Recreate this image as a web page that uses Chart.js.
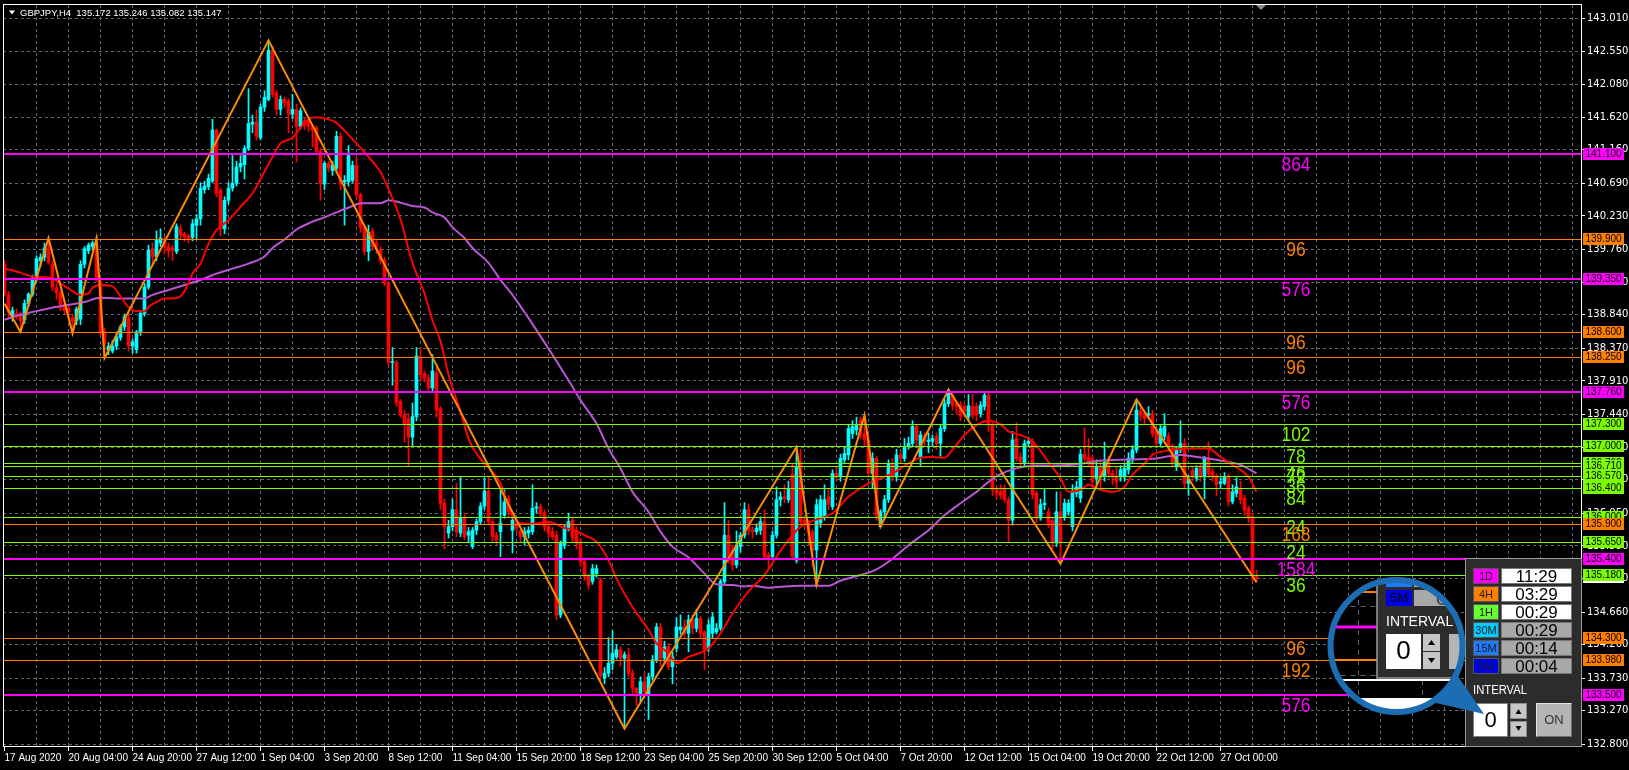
<!DOCTYPE html>
<html><head><meta charset="utf-8">
<script src="https://cdn.jsdelivr.net/npm/chart.js@4.4.1/dist/chart.umd.min.js"></script>
<style>html,body{margin:0;padding:0;background:#000;overflow:hidden}canvas{display:block}</style>
</head><body>
<canvas id="c" width="1629" height="770"></canvas>
<script>
// ---------------- DATA ----------------
const symbolTitle = 'GBPJPY,H4  135.172 135.246 135.082 135.147';
const timeLabels = ['17 Aug 2020','20 Aug 04:00','24 Aug 20:00','27 Aug 12:00','1 Sep 04:00','3 Sep 20:00','8 Sep 12:00','11 Sep 04:00','15 Sep 20:00','18 Sep 12:00','23 Sep 04:00','25 Sep 20:00','30 Sep 12:00','5 Oct 04:00','7 Oct 20:00','12 Oct 12:00','15 Oct 04:00','19 Oct 20:00','22 Oct 12:00','27 Oct 00:00'];
const priceTicks = [143.010,142.550,142.080,141.620,141.160,140.690,140.230,139.760,139.300,138.840,138.370,137.910,137.440,136.980,136.520,136.050,135.590,135.130,134.660,134.200,133.730,133.270,132.800];

const barOpen = [
139.55,139.12,138.83,138.86,138.84,138.77,139.00,139.13,139.36,139.60,
139.65,139.78,139.55,139.22,139.15,138.98,138.93,138.80,138.76,138.78,
139.55,139.74,139.80,139.85,139.30,138.60,138.34,138.33,138.40,138.52,
138.67,138.80,138.40,138.35,138.60,138.86,139.23,139.77,139.66,139.85,
139.90,139.80,139.78,139.73,140.05,139.97,139.95,139.93,140.10,140.19,
140.60,140.64,140.72,141.44,140.59,140.05,140.45,140.62,140.69,140.92,
140.95,141.18,141.52,141.55,141.33,141.76,141.87,142.56,141.96,141.73,
141.87,141.85,141.66,141.73,141.49,141.57,141.56,141.49,141.47,141.14,
140.68,140.97,140.87,140.90,141.35,140.71,140.71,140.73,140.94,140.53,
140.07,139.73,140.02,139.85,139.76,139.61,139.28,138.17,138.17,137.62,
137.43,137.38,137.12,137.41,138.25,138.01,137.95,137.81,138.02,137.52,
136.19,135.77,135.86,136.10,135.77,135.98,135.74,135.58,135.81,135.93,
136.15,136.36,135.93,135.74,135.79,136.02,136.26,135.81,135.91,135.79,
135.72,135.77,135.79,136.12,136.14,136.06,135.86,135.79,135.74,134.62,
135.60,135.84,135.95,135.81,135.65,135.37,135.16,135.09,135.20,135.11,
133.73,133.80,133.94,134.03,134.13,134.01,134.06,133.80,133.59,133.49,
133.68,133.49,133.75,133.99,134.45,134.01,134.17,133.89,134.15,134.41,
134.45,134.36,134.55,134.43,134.57,134.38,134.15,134.36,134.38,134.43,
135.09,135.74,135.53,135.32,135.58,135.74,136.10,135.81,135.79,135.81,
135.93,135.46,135.44,135.74,136.24,136.28,136.24,136.60,135.39,136.77,
135.95,135.91,135.79,135.53,135.91,136.00,136.28,136.14,136.61,136.56,
136.80,136.87,137.17,137.22,137.36,137.17,137.08,136.61,136.82,135.86,
136.07,136.24,136.75,136.56,136.87,136.82,136.99,137.03,137.27,136.84,
137.13,137.06,137.06,137.13,137.03,137.24,137.59,137.71,137.59,137.57,
137.55,137.41,137.55,137.55,137.45,137.55,137.71,137.29,136.38,136.36,
136.40,136.24,135.95,137.10,136.84,136.75,137.03,137.06,136.33,135.98,
136.17,136.07,135.95,135.63,136.07,136.00,136.07,135.86,136.33,136.26,
136.88,136.84,136.82,136.54,136.70,136.56,136.77,136.61,136.56,136.56,
136.56,136.66,136.80,136.94,137.49,137.45,137.43,137.45,137.20,137.03,
137.13,137.13,136.99,136.70,136.94,137.03,136.47,136.65,136.54,136.70,
136.56,136.82,136.63,136.56,136.47,136.47,136.56,136.21,136.33,136.40,
136.26,136.12,136.00,135.172];
const barHigh = [
139.60,139.17,138.95,138.92,138.88,139.05,139.15,139.40,139.67,139.70,
139.85,139.92,139.60,139.28,139.18,139.05,138.98,138.85,138.95,139.60,
139.80,139.85,139.88,139.92,139.33,138.65,138.45,138.48,138.60,138.70,
138.85,138.88,138.50,138.62,138.90,139.28,139.82,139.85,140.02,140.05,
139.95,139.85,139.82,140.12,140.10,140.00,139.98,140.18,140.25,140.70,
140.72,140.82,141.59,141.45,140.62,140.50,140.70,141.08,141.00,141.08,
141.22,142.02,141.65,141.72,141.80,141.99,142.70,142.62,142.00,141.92,
141.90,141.88,141.94,141.80,141.75,141.62,141.60,141.52,141.50,141.18,
141.00,141.00,141.00,141.42,141.40,140.80,141.22,141.00,141.05,140.55,
140.10,140.10,140.06,139.90,139.80,139.65,139.30,138.38,138.20,137.65,
137.50,137.45,137.60,138.38,138.38,138.05,138.00,138.28,138.10,137.55,
136.25,135.95,136.25,136.47,136.57,136.05,135.85,135.85,135.97,136.20,
136.55,136.57,135.97,135.78,136.38,136.38,136.30,136.00,135.95,135.82,
135.85,135.86,136.45,136.20,136.18,136.10,135.92,135.85,135.80,135.66,
135.88,136.05,136.00,135.86,135.70,135.40,135.20,135.33,135.32,135.14,
133.88,134.30,134.40,134.20,134.17,134.10,134.15,133.85,133.60,133.75,
133.80,133.80,134.05,134.50,134.50,134.25,134.22,134.10,134.58,134.62,
134.55,134.62,134.62,134.70,134.60,134.40,134.55,134.65,134.50,135.12,
136.20,135.95,135.60,135.80,135.78,136.20,136.18,135.86,135.90,136.00,
136.10,135.50,135.80,136.42,136.35,136.45,136.50,136.75,136.98,136.95,
136.00,135.95,135.82,136.25,136.30,136.45,136.40,136.66,136.70,136.88,
136.98,137.30,137.35,137.40,137.40,137.43,137.15,136.90,136.85,136.10,
136.30,136.80,136.82,136.95,136.92,137.10,137.12,137.35,137.30,137.20,
137.18,137.18,137.15,137.18,137.30,137.65,137.79,137.76,137.62,137.62,
137.60,137.72,137.72,137.60,137.62,137.76,137.76,137.32,136.42,136.45,
136.45,136.28,137.20,137.32,136.90,137.08,137.12,137.10,136.36,136.25,
136.40,136.12,135.98,136.35,136.35,136.25,136.24,136.45,136.50,136.95,
137.25,137.10,136.87,136.80,136.80,137.05,136.85,136.66,136.70,136.72,
136.75,136.90,137.00,137.65,137.60,137.50,137.55,137.50,137.25,137.30,
137.45,137.18,137.02,136.98,137.35,137.10,136.58,136.70,136.72,136.75,
136.85,137.05,136.68,136.60,136.55,136.62,136.60,136.45,136.55,136.50,
136.30,136.15,136.05,135.246];
const barLow = [
139.10,138.80,138.75,138.78,138.60,138.72,138.95,139.10,139.30,139.52,
139.60,139.55,139.18,139.05,138.90,138.85,138.80,138.58,138.70,138.70,
139.50,139.70,139.75,139.30,138.55,138.23,138.28,138.30,138.35,138.48,
138.62,138.33,138.30,138.30,138.55,138.82,139.20,139.55,139.60,139.80,
139.70,139.65,139.60,139.70,139.90,139.88,139.85,139.88,139.90,140.10,
140.55,140.60,140.70,140.50,139.95,139.98,140.40,140.58,140.65,140.85,
140.75,141.15,141.40,141.30,141.30,141.70,141.85,141.90,141.65,141.65,
141.75,141.40,141.60,140.99,141.45,141.45,141.42,141.20,141.10,140.45,
140.60,140.85,140.80,140.85,140.60,140.10,140.65,140.70,140.48,140.00,
139.68,139.60,139.75,139.70,139.55,139.25,138.12,137.85,137.55,137.40,
137.05,136.72,137.00,137.35,137.90,137.90,137.75,137.75,137.40,136.10,
135.55,135.70,135.80,135.72,135.72,135.68,135.65,135.55,135.75,135.90,
136.10,135.90,135.65,135.60,135.44,135.98,136.00,135.49,135.78,135.65,
135.60,135.70,135.75,136.05,136.00,135.80,135.70,135.68,134.55,134.58,
135.55,135.80,135.65,135.55,135.30,135.10,134.98,135.05,135.15,133.70,
133.65,133.75,133.85,134.00,133.90,133.02,133.75,133.50,133.35,133.40,
133.45,133.15,133.70,133.95,133.90,133.95,133.85,133.65,134.10,134.35,
134.30,134.10,134.35,134.38,134.30,133.85,134.10,134.30,134.35,134.40,
135.05,135.35,135.25,135.28,135.50,135.70,135.75,135.70,135.75,135.75,
135.40,135.25,135.40,135.70,136.15,136.20,136.20,135.40,135.35,135.90,
135.85,135.60,135.30,135.04,135.85,135.95,136.10,136.10,136.50,136.50,
136.75,136.80,137.10,137.15,137.10,137.00,136.55,136.40,135.95,135.86,
136.00,136.20,136.50,136.50,136.75,136.78,136.95,136.98,137.00,136.72,
137.00,136.90,137.00,136.95,136.85,137.20,137.55,137.50,137.45,137.35,
137.40,137.35,137.38,137.35,137.40,137.50,137.20,136.30,136.25,136.25,
136.20,135.65,135.88,136.78,136.70,136.70,136.98,136.25,135.92,135.95,
136.10,135.85,135.55,135.58,135.34,135.95,136.02,135.80,136.28,136.20,
136.78,136.70,136.40,136.45,136.40,136.50,136.55,136.45,136.40,136.50,
136.50,136.60,136.75,136.90,137.35,137.30,137.38,137.12,136.98,136.98,
137.08,136.95,136.70,136.65,136.90,136.40,136.30,136.50,136.50,136.50,
136.25,136.55,136.50,136.30,136.40,136.45,136.15,136.18,136.28,136.18,
136.02,135.92,135.09,135.082];
const barClose = [
139.13,138.88,138.90,138.82,138.76,139.00,139.13,139.36,139.63,139.65,
139.78,139.58,139.23,139.15,138.95,138.90,138.88,138.75,138.92,139.55,
139.77,139.82,139.85,139.33,138.60,138.43,138.40,138.40,138.53,138.67,
138.81,138.40,138.46,138.60,138.86,139.23,139.75,139.66,139.89,139.92,
139.80,139.74,139.75,140.08,139.96,139.93,139.90,140.12,140.19,140.62,
140.65,140.76,141.44,140.55,140.05,140.45,140.62,140.69,140.92,140.97,
141.18,141.53,141.55,141.35,141.76,141.90,142.56,141.94,141.73,141.87,
141.82,141.66,141.73,141.49,141.71,141.51,141.49,141.44,141.14,140.68,
140.97,140.90,140.95,141.35,140.68,140.73,141.08,140.94,140.53,140.07,
139.73,140.00,139.80,139.80,139.60,139.28,138.17,138.18,137.60,137.43,
137.31,137.12,137.41,138.26,138.00,137.95,137.81,138.05,137.50,136.19,
135.86,135.86,136.10,135.79,135.98,135.72,135.79,135.81,135.93,136.15,
136.36,135.93,135.72,135.67,135.91,136.21,136.07,135.95,135.84,135.72,
135.79,135.81,136.12,136.14,136.05,135.86,135.77,135.72,134.62,135.63,
135.84,135.93,135.70,135.63,135.37,135.16,135.04,135.27,135.27,133.77,
133.80,133.94,134.08,134.13,134.01,134.06,133.80,133.59,133.52,133.68,
133.54,133.75,133.99,134.45,134.01,134.17,133.89,134.03,134.45,134.45,
134.36,134.55,134.43,134.57,134.36,134.13,134.48,134.59,134.43,135.09,
135.74,135.39,135.32,135.60,135.74,136.10,135.81,135.79,135.84,135.93,
135.44,135.42,135.74,136.24,136.28,136.26,136.40,135.44,136.70,135.93,
135.91,135.77,135.53,136.17,136.24,136.24,136.17,136.61,136.56,136.82,
136.89,137.24,137.27,137.29,137.17,137.08,136.61,136.82,136.02,136.07,
136.24,136.75,136.56,136.87,136.82,136.99,137.03,137.27,137.08,137.15,
137.06,137.08,137.10,137.03,137.24,137.59,137.76,137.57,137.55,137.41,
137.48,137.56,137.43,137.43,137.57,137.71,137.29,136.38,136.33,136.30,
136.24,135.95,137.08,136.82,136.77,137.03,137.06,136.31,135.98,136.17,
136.19,135.91,135.63,136.07,135.63,136.19,136.19,136.35,136.42,136.88,
136.82,136.77,136.49,136.70,136.56,136.77,136.61,136.56,136.49,136.66,
136.68,136.82,136.94,137.50,137.43,137.38,137.45,137.17,137.03,137.24,
137.27,136.99,136.75,136.94,137.03,136.47,136.52,136.56,136.68,136.56,
136.82,136.61,136.56,136.45,136.49,136.56,136.21,136.35,136.42,136.24,
136.09,135.98,135.17,135.147];

// moving averages: [bar index, value]
const maFast = [[0,139.49],[3,139.45],[7,139.38],[12,139.35],[14,139.28],[16,139.21],[19,139.12],[21,139.14],[22,139.22],[24,139.26],[27,139.24],[29,139.10],[31,138.95],[33,138.89],[35,138.89],[36,138.95],[38,139.02],[40,139.07],[42,139.07],[44,139.10],[46,139.28],[47,139.42],[49,139.56],[51,139.84],[53,140.03],[56,140.17],[59,140.36],[62,140.55],[64,140.75],[67,141.06],[69,141.25],[72,141.33],[74,141.47],[76,141.59],[78,141.62],[81,141.59],[83,141.54],[86,141.37],[88,141.25],[91,141.06],[94,140.85],[96,140.61],[99,140.18],[102,139.57],[105,139.14],[107,138.76],[109,138.47],[111,138.00],[114,137.48],[116,137.10],[119,136.81],[121,136.69],[124,136.47],[127,136.00],[129,135.91],[132,135.90],[136,135.93],[140,135.84],[142,135.82],[145,135.74],[148,135.65],[151,135.39],[153,135.13],[157,134.73],[161,134.41],[163,134.22],[166,134.08],[168,133.94],[171,134.03],[174,134.09],[176,134.15],[179,134.36],[182,134.64],[186,134.95],[190,135.18],[193,135.44],[196,135.67],[199,135.86],[203,135.96],[207,136.05],[211,136.28],[216,136.47],[219,136.54],[222,136.61],[226,136.75],[229,136.83],[232,136.84],[235,136.83],[237,136.94],[240,137.15],[243,137.29],[246,137.35],[249,137.30],[251,137.20],[254,137.15],[257,137.06],[261,136.77],[264,136.54],[266,136.35],[269,136.38],[271,136.45],[274,136.38],[277,136.35],[280,136.42],[282,136.59],[285,136.75],[287,136.87],[291,136.93],[293,136.95],[296,136.96],[301,136.96],[304,136.84],[307,136.73],[311,136.56],[313,136.35]];
const maSlow = [[0,138.77],[4,138.84],[7,138.88],[11,138.93],[16,138.98],[20,139.02],[24,139.08],[28,139.07],[32,139.07],[35,139.07],[37,139.12],[41,139.19],[45,139.26],[49,139.33],[53,139.42],[57,139.49],[61,139.56],[65,139.66],[67,139.78],[70,139.90],[73,140.04],[77,140.15],[80,140.21],[83,140.28],[87,140.37],[89,140.41],[94,140.41],[96,140.45],[100,140.40],[102,140.37],[105,140.35],[107,140.28],[110,140.21],[112,140.07],[115,139.92],[117,139.78],[121,139.57],[124,139.33],[127,139.12],[141,137.92],[144,137.64],[148,137.31],[151,136.96],[154,136.68],[157,136.35],[161,136.07],[164,135.79],[167,135.58],[171,135.43],[175,135.20],[178,135.05],[182,135.04],[185,135.02],[187,135.03],[191,135.00],[195,135.02],[199,135.03],[206,135.03],[209,135.10],[214,135.18],[218,135.26],[222,135.41],[226,135.60],[231,135.81],[235,136.02],[239,136.19],[243,136.35],[246,136.49],[249,136.60],[253,136.68],[258,136.72],[262,136.72],[267,136.73],[271,136.76],[274,136.79],[279,136.80],[284,136.81],[288,136.82],[291,136.85],[294,136.87],[297,136.85],[301,136.82],[306,136.77],[309,136.73],[313,136.61]];
const zigzag = [[0,139.00],[4,138.60],[11,139.92],[17,138.58],[23,139.92],[25,138.23],[66,142.70],[155,133.02],[198,136.98],[203,135.04],[215,137.43],[219,135.86],[236,137.79],[264,135.34],[283,137.65],[313,135.08]];

// horizontal levels
const levelPrice = [141.10,139.90,139.35,138.60,138.25,137.76,137.30,137.00,136.76,136.71,136.57,136.40,136.00,135.90,135.65,135.40,135.18,134.30,133.98,133.50];
const levelKind  = ['m','o','m','o','o','m','g','g','g','g','g','g','g','o','g','m','g','o','o','m'];
const levelCount = ['864','96','576','96','96','576','102','78','46','72','36','84','24','168','24','1584','36','96','192','576'];
const bidPrice = 135.147;

// timer panel
const timerNames  = ['1D','4H','1H','30M','15M','5M'];
const timerValues = ['11:29','03:29','00:29','00:29','00:14','00:04'];
const intervalValue = '0';

// ---------------- STYLE ----------------
const UP = '#00FFFF', DOWN = '#FF0000', GRID = '#5d6876';
const KIND = {m:{c:'#FF00FF',w:2}, o:{c:'#FF7F00',w:1}, g:{c:'#7CFC00',w:1}};
const timerColors = ['#FF00FF','#FF7F00','#66FF33','#00CCFF','#1E7BFF','#0000E6'];
const timerBg = ['#FFFFFF','#FFFFFF','#FFFFFF','#A8A8A8','#A8A8A8','#A8A8A8'];

const idx = barOpen.map((_, i) => i);
const candleColor = idx.map(i => barClose[i] >= barOpen[i] ? UP : DOWN);
const gridIdx = []; for (let i = 0; i <= 392; i += 8) gridIdx.push(i);
const isLabelTick = v => v % 16 === 0 && v / 16 < timeLabels.length;

function drawOverlay(chart) {
  const ctx = chart.ctx, a = chart.chartArea, ys = chart.scales.y;
  const yp = v => ys.getPixelForValue(v);
  ctx.save();
  // level lines
  ctx.save();
  ctx.beginPath(); ctx.rect(a.left, a.top, a.right - a.left, a.bottom - a.top); ctx.clip();
  levelPrice.forEach((p, k) => {
    const st = KIND[levelKind[k]];
    let y = Math.round(yp(p)); if (st.w % 2) y += 0.5;
    ctx.strokeStyle = st.c; ctx.lineWidth = st.w; ctx.setLineDash([]);
    ctx.beginPath(); ctx.moveTo(a.left, y); ctx.lineTo(a.right, y); ctx.stroke();
  });
  // level counts
  levelPrice.forEach((p, k) => {
    const st = KIND[levelKind[k]];
    const y = yp(p);
    ctx.save(); ctx.translate(1296, y + 17); ctx.scale(0.87, 1);
    ctx.font = '20px "Liberation Sans", Arial, sans-serif';
    ctx.fillStyle = st.c; ctx.textAlign = 'center'; ctx.textBaseline = 'alphabetic';
    ctx.fillText(levelCount[k], 0, 0);
    ctx.restore();
  });
  ctx.restore();

  // frame
  ctx.strokeStyle = '#ffffff'; ctx.lineWidth = 1; ctx.setLineDash([]);
  ctx.strokeRect(3.5, 4.5, 1578, 742);

  // price boxes on axis
  ctx.font = '10px "Liberation Sans", Arial, sans-serif';
  ctx.textBaseline = 'middle'; ctx.textAlign = 'left';
  const box = (p, fill) => {
    const y = Math.round(yp(p));
    ctx.fillStyle = fill; ctx.fillRect(1583, y - 6, 41, 12);
    ctx.fillStyle = '#000'; ctx.fillText(p.toFixed(3), 1585.5, y + 0.5, 37.5);
  };
  box(bidPrice, '#FFFFFF');
  levelPrice.forEach((p, k) => box(p, KIND[levelKind[k]].c));

  // header
  ctx.fillStyle = '#ffffff';
  ctx.beginPath(); ctx.moveTo(9, 10.5); ctx.lineTo(15, 10.5); ctx.lineTo(12, 14.5); ctx.closePath(); ctx.fill();
  ctx.font = '9.5px "Liberation Sans", Arial, sans-serif'; ctx.textBaseline = 'middle';
  ctx.fillText(symbolTitle, 20, 13);
  // chart shift marker
  ctx.fillStyle = '#8a8a8a';
  ctx.beginPath(); ctx.moveTo(1256, 5); ctx.lineTo(1266, 5); ctx.lineTo(1261, 10); ctx.closePath(); ctx.fill();

  drawPanel(ctx);
  drawMagnifier(ctx);
  ctx.restore();
}

function drawPanel(ctx) {
  ctx.fillStyle = '#2c2c2c'; ctx.fillRect(1465, 558, 117, 189);
  ctx.strokeStyle = '#9c9c9c'; ctx.lineWidth = 1; ctx.strokeRect(1465.5, 558.5, 116, 188);
  for (let k = 0; k < timerNames.length; k++) {
    const y = 568 + k * 18;
    ctx.fillStyle = timerColors[k]; ctx.fillRect(1473, y, 26, 16);
    ctx.strokeStyle = '#555'; ctx.strokeRect(1473.5, y + 0.5, 25, 15);
    ctx.fillStyle = timerBg[k]; ctx.fillRect(1501, y, 71, 16);
    ctx.strokeStyle = '#777'; ctx.strokeRect(1501.5, y + 0.5, 70, 15);
    ctx.fillStyle = '#1a1a1a'; ctx.textAlign = 'center'; ctx.textBaseline = 'middle';
    ctx.font = '11px "Liberation Sans", Arial, sans-serif';
    ctx.fillText(timerNames[k], 1486, y + 8.5);
    ctx.fillStyle = '#000'; ctx.font = '17px "Liberation Sans", Arial, sans-serif';
    ctx.fillText(timerValues[k], 1536.5, y + 9);
  }
  ctx.textAlign = 'left'; ctx.textBaseline = 'alphabetic';
  ctx.fillStyle = '#ffffff'; ctx.font = '12px "Liberation Sans", Arial, sans-serif';
  ctx.fillText('INTERVAL', 1473, 694, 54);
  // input
  ctx.fillStyle = '#ffffff'; ctx.fillRect(1473, 703, 35, 34);
  ctx.strokeStyle = '#808080'; ctx.strokeRect(1473.5, 703.5, 34, 33);
  ctx.fillStyle = '#000'; ctx.font = '22px "Liberation Sans", Arial, sans-serif';
  ctx.textAlign = 'center'; ctx.textBaseline = 'middle';
  ctx.fillText(intervalValue, 1490.5, 721);
  // spinner
  ctx.fillStyle = '#c6c6c6'; ctx.fillRect(1510, 703, 17, 16); ctx.fillRect(1510, 721, 17, 16);
  ctx.strokeStyle = '#8a8a8a'; ctx.strokeRect(1510.5, 703.5, 16, 15); ctx.strokeRect(1510.5, 721.5, 16, 15);
  ctx.fillStyle = '#000';
  ctx.beginPath(); ctx.moveTo(1515.5, 714); ctx.lineTo(1521.5, 714); ctx.lineTo(1518.5, 709); ctx.closePath(); ctx.fill();
  ctx.beginPath(); ctx.moveTo(1515.5, 726); ctx.lineTo(1521.5, 726); ctx.lineTo(1518.5, 731); ctx.closePath(); ctx.fill();
  // ON button
  ctx.fillStyle = '#b4b4b4'; ctx.fillRect(1536, 703, 36, 34);
  ctx.strokeStyle = '#e6e6e6'; ctx.beginPath(); ctx.moveTo(1536.5, 736.5); ctx.lineTo(1536.5, 703.5); ctx.lineTo(1571.5, 703.5); ctx.stroke();
  ctx.strokeStyle = '#6e6e6e'; ctx.beginPath(); ctx.moveTo(1571.5, 703.5); ctx.lineTo(1571.5, 736.5); ctx.lineTo(1536.5, 736.5); ctx.stroke();
  ctx.fillStyle = '#333'; ctx.font = '13px "Liberation Sans", Arial, sans-serif';
  ctx.fillText('ON', 1554, 720.5);
}

function drawMagnifier(ctx) {
  const cx = 1396.5, cy = 646, r = 66;
  ctx.save();
  ctx.beginPath(); ctx.arc(cx, cy, r, 0, Math.PI * 2); ctx.clip();
  ctx.fillStyle = '#000'; ctx.fillRect(cx - r, cy - r, 2 * r, 2 * r);
  ctx.strokeStyle = GRID; ctx.lineWidth = 1; ctx.setLineDash([5, 5]);
  [1358.5, 1422.5].forEach(x => { ctx.beginPath(); ctx.moveTo(x, cy - r); ctx.lineTo(x, cy + r); ctx.stroke(); });
  [606.5, 675.5].forEach(y => { ctx.beginPath(); ctx.moveTo(cx - r, y); ctx.lineTo(cx + r, y); ctx.stroke(); });
  ctx.setLineDash([]);
  ctx.strokeStyle = '#FF7F00'; ctx.lineWidth = 2;
  ctx.beginPath(); ctx.moveTo(cx - r, 592); ctx.lineTo(1377, 592); ctx.stroke();
  ctx.beginPath(); ctx.moveTo(cx - r, 660); ctx.lineTo(1377, 660); ctx.stroke();
  ctx.strokeStyle = '#FF00FF'; ctx.lineWidth = 3;
  ctx.beginPath(); ctx.moveTo(cx - r, 627); ctx.lineTo(1377, 627); ctx.stroke();
  // magnified panel
  ctx.fillStyle = '#2c2c2c'; ctx.fillRect(1377, cy - r, 100, 678 - (cy - r));
  ctx.strokeStyle = '#9c9c9c'; ctx.lineWidth = 1.5;
  ctx.beginPath(); ctx.moveTo(1377, cy - r); ctx.lineTo(1377, 678); ctx.lineTo(1470, 678); ctx.stroke();
  ctx.fillStyle = '#1E7BFF'; ctx.fillRect(1386, 575, 26, 12);
  ctx.fillStyle = '#A8A8A8'; ctx.fillRect(1414, 575, 60, 12);
  ctx.fillStyle = '#0000E6'; ctx.fillRect(1386, 590, 26, 16);
  ctx.fillStyle = '#A8A8A8'; ctx.fillRect(1414, 590, 60, 16);
  ctx.fillStyle = '#000'; ctx.font = '13px "Liberation Sans", Arial, sans-serif';
  ctx.textAlign = 'center'; ctx.textBaseline = 'middle';
  ctx.fillText(timerNames[5], 1399, 598.5);
  ctx.font = '22px "Liberation Sans", Arial, sans-serif'; ctx.fillStyle = '#444';
  ctx.fillText('00', 1448, 599);
  ctx.fillStyle = '#fff'; ctx.font = '14px "Liberation Sans", Arial, sans-serif';
  ctx.textAlign = 'left'; ctx.fillText('INTERVAL', 1386, 622);
  ctx.fillStyle = '#fff'; ctx.fillRect(1386, 634, 35, 35);
  ctx.fillStyle = '#000'; ctx.font = '26px "Liberation Sans", Arial, sans-serif';
  ctx.textAlign = 'center'; ctx.fillText(intervalValue, 1403.5, 652);
  ctx.fillStyle = '#c6c6c6'; ctx.fillRect(1423, 634, 17, 17); ctx.fillRect(1423, 652, 17, 17);
  ctx.fillStyle = '#000';
  ctx.beginPath(); ctx.moveTo(1428, 645); ctx.lineTo(1435, 645); ctx.lineTo(1431.5, 640); ctx.closePath(); ctx.fill();
  ctx.beginPath(); ctx.moveTo(1428, 658); ctx.lineTo(1435, 658); ctx.lineTo(1431.5, 663); ctx.closePath(); ctx.fill();
  ctx.fillStyle = '#b4b4b4'; ctx.fillRect(1449, 634, 30, 35);
  ctx.fillStyle = '#ffffff'; ctx.fillRect(cx - r, 679, 2 * r, 2);
  ctx.fillStyle = '#ffffff'; ctx.beginPath(); ctx.arc(cx, cy, r, 0.2 * Math.PI, 0.8 * Math.PI); ctx.lineTo(cx - 40, 698); ctx.lineTo(cx + 40, 698); ctx.closePath(); ctx.fill();
  ctx.restore();
  // ring + tail
  ctx.strokeStyle = '#1D6DB5'; ctx.lineWidth = 6;
  ctx.beginPath(); ctx.arc(cx, cy, r, 0, Math.PI * 2); ctx.stroke();
  const a1 = 25 * Math.PI / 180, a2 = 58 * Math.PI / 180;
  ctx.fillStyle = '#1D6DB5';
  ctx.beginPath();
  ctx.moveTo(cx + r * Math.cos(a1), cy + r * Math.sin(a1));
  ctx.lineTo(1484, 714);
  ctx.lineTo(cx + r * Math.cos(a2), cy + r * Math.sin(a2));
  ctx.arc(cx, cy, r + 2, a2, a1, true);
  ctx.closePath(); ctx.fill();
}

const overlay = {
  id: 'overlay',
  beforeDraw(chart) { const c = chart.ctx; c.save(); c.fillStyle = '#000'; c.fillRect(0, 0, chart.width, chart.height); c.restore(); },
  afterDraw(chart) { drawOverlay(chart); }
};

new Chart(document.getElementById('c'), {
  type: 'bar',
  data: {
    datasets: [
      {type: 'line', label: 'ZigZag', data: zigzag.map(p => ({x: p[0], y: p[1]})), borderColor: '#FF8C00', borderWidth: 2, pointRadius: 0, tension: 0, order: 1},
      {type: 'line', label: 'MA fast', data: maFast.map(p => ({x: p[0], y: p[1]})), borderColor: '#FF0000', borderWidth: 2, pointRadius: 0, cubicInterpolationMode: 'monotone', order: 2},
      {type: 'line', label: 'MA slow', data: maSlow.map(p => ({x: p[0], y: p[1]})), borderColor: '#BA55D3', borderWidth: 2, pointRadius: 0, cubicInterpolationMode: 'monotone', order: 3},
      {type: 'bar', label: 'body', data: idx.map(i => ({x: i, y: [barOpen[i], barClose[i]]})), backgroundColor: candleColor, barThickness: 3, minBarLength: 1, grouped: false, borderWidth: 0, order: 4},
      {type: 'bar', label: 'wick', data: idx.map(i => ({x: i, y: [barLow[i], barHigh[i]]})), backgroundColor: candleColor, barThickness: 1, grouped: false, borderWidth: 0, order: 5}
    ]
  },
  options: {
    responsive: false, animation: false, devicePixelRatio: 1,
    layout: {padding: {left: 3, top: 5, right: 0, bottom: 0}},
    plugins: {legend: {display: false}, tooltip: {enabled: false}},
    scales: {
      x: {
        type: 'linear', position: 'bottom', min: -0.375, max: 394.125, offset: false, bounds: 'data',
        afterBuildTicks: s => { s.ticks = gridIdx.map(v => ({value: v})); },
        afterFit: s => { s.height = 23; s.paddingLeft = 0; s.paddingRight = 0; s.paddingTop = 0; s.paddingBottom = 0; },
        ticks: {autoSkip: false, maxRotation: 0, minRotation: 0, align: 'start', color: '#ffffff', padding: 1,
          font: {family: '"Liberation Sans", Arial, sans-serif', size: 10},
          callback: v => isLabelTick(v) ? timeLabels[v / 16] : ''},
        grid: {offset: false, lineWidth: 1, tickLength: 4, tickBorderDash: [],
          color: c => (c.tick && c.tick.value === 0) ? 'rgba(0,0,0,0)' : GRID,
          tickColor: c => (c.tick && isLabelTick(c.tick.value)) ? '#ffffff' : 'rgba(0,0,0,0)'},
        border: {display: false, dash: [3, 3]}
      },
      y: {
        type: 'linear', position: 'right', min: 132.762, max: 143.197, bounds: 'data',
        afterBuildTicks: s => { s.ticks = priceTicks.map(v => ({value: v})); },
        afterFit: s => { s.width = 48; s.paddingTop = 0; s.paddingBottom = 0; s.paddingLeft = 0; s.paddingRight = 0; },
        ticks: {autoSkip: false, color: '#ffffff', padding: 2,
          font: {family: '"DejaVu Sans", sans-serif', size: 10},
          callback: v => Number(v).toFixed(3)},
        grid: {color: GRID, lineWidth: 1, tickLength: 4, tickColor: '#ffffff', tickBorderDash: []},
        border: {display: false, dash: [3, 3]}
      }
    }
  },
  plugins: [overlay]
});
</script>
</body></html>
